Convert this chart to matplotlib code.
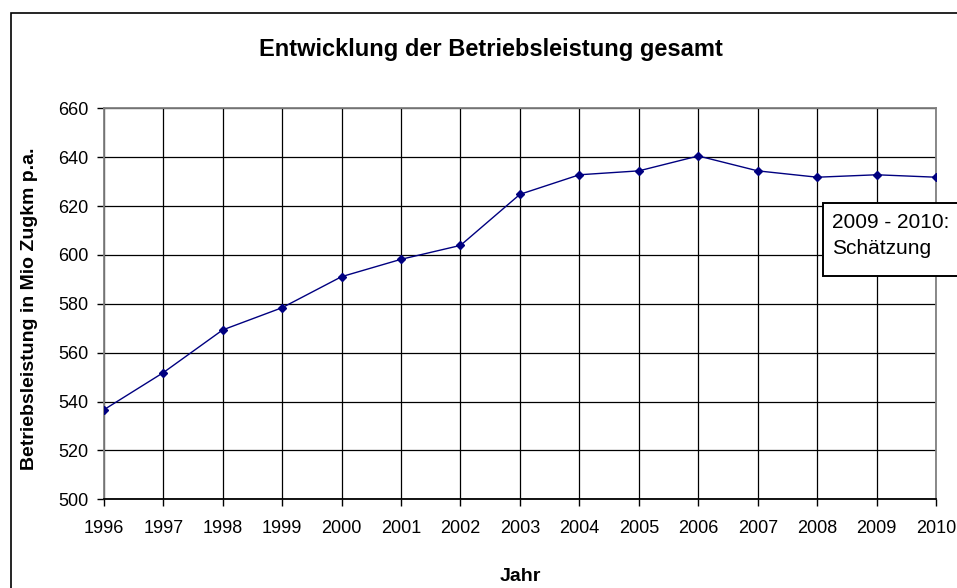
import matplotlib.pyplot as plt
from matplotlib.patches import Rectangle

plt.rcParams['font.family'] = ['Liberation Sans', 'DejaVu Sans']

# Daten
jahre = [1996, 1997, 1998, 1999, 2000, 2001, 2002, 2003,
         2004, 2005, 2006, 2007, 2008, 2009, 2010]
leistung = [536.6, 551.8, 569.3, 578.4, 591.1, 598.2, 603.9, 624.8,
            632.8, 634.4, 640.5, 634.4, 631.8, 632.8, 631.8]
y_ticks = [500, 520, 540, 560, 580, 600, 620, 640, 660]

W, H = 957, 588
fig = plt.figure(figsize=(W / 100, H / 100), dpi=100)
ax = fig.add_axes([0.1084, 0.1509, 0.8698, 0.6649])

# Rahmen um das ganze Diagramm (rechts und unten abgeschnitten)
fig.patches.append(Rectangle((11 / W, -0.05), 1.0, 1 - 13 / H + 0.05,
                             transform=fig.transFigure, fill=False,
                             edgecolor='black', linewidth=1.2))

ax.plot(jahre, leistung, color='#000080', linewidth=1.0,
        marker='D', markersize=4.5, zorder=3)

ax.set_xlim(1996, 2010)
ax.set_ylim(500, 660)
ax.set_xticks(jahre)
ax.set_yticks(y_ticks)
ax.grid(True, color='black', linewidth=0.9)
ax.set_axisbelow(True)
for s in ax.spines.values():
    s.set_color('#808080')
    s.set_linewidth(1.3)
ax.spines['bottom'].set_color('black')
ax.tick_params(axis='both', direction='out', length=5, width=1,
               color='black', labelsize=13)
ax.tick_params(axis='x', pad=10)
ax.tick_params(axis='y', pad=6)

fig.text(0.513, 0.915, 'Entwicklung der Betriebsleistung gesamt',
         ha='center', va='center', fontsize=17, fontweight='bold')
fig.text(0.0308, 0.4745, 'Betriebsleistung in Mio Zugkm p.a.',
         ha='center', va='center', rotation=90, fontsize=14, fontweight='bold')
fig.text(0.5434, 0.0204, 'Jahr', ha='center', va='center',
         fontsize=14, fontweight='bold')

# Hinweis-Kasten
fig.patches.append(Rectangle((822.7 / W, 1 - 276 / H), 0.2, 73 / H,
                             transform=fig.transFigure, facecolor='white',
                             edgecolor='black', linewidth=1.4, zorder=5))
fig.text(831.7 / W, 1 - 223 / H, '2009 - 2010:', ha='left', va='center',
         fontsize=15, zorder=6)
fig.text(831.7 / W, 1 - 248 / H, 'Schätzung', ha='left', va='center',
         fontsize=15, zorder=6)

fig.savefig('out.png', dpi=100)
